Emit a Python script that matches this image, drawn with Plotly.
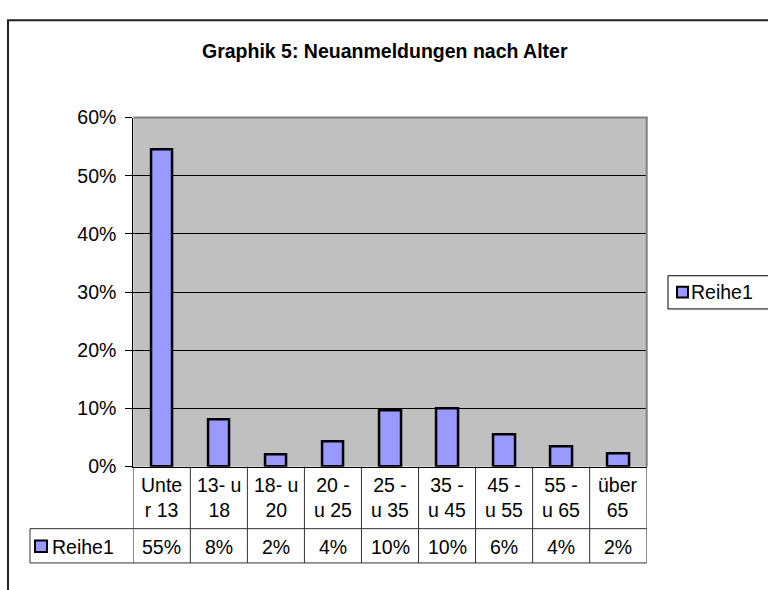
import plotly.graph_objects as go

# ---- data ----
categories = ["Unte<br>r 13", "13- u<br>18", "18- u<br>20", "20 -<br>u 25", "25 -<br>u 35",
              "35 -<br>u 45", "45 -<br>u 55", "55 -<br>u 65", "über<br>65"]
values = [0.545, 0.081, 0.020, 0.0435, 0.096, 0.100, 0.056, 0.035, 0.023]
value_labels = ["55%", "8%", "2%", "4%", "10%", "10%", "6%", "4%", "2%"]
series_name = "Reihe1"
title_text = "Graphik 5: Neuanmeldungen nach Alter"

W, H = 768, 590
def px(x): return x / W
def py(y): return 1 - y / H

FONT = "Liberation Sans, Arial, sans-serif"
FS = 19.5
BAR_FILL = "#9999FF"

# plot area in pixels
PL, PR, PT, PB = 133.3, 646.7, 110.7, 473.3
HEAD_B = 537.7
TAB_B = 573.3
LEG_L = 30

idx = list(range(len(categories)))

fig = go.Figure()
fig.add_trace(go.Bar(
    x=idx, y=values, width=0.38, name=series_name,
    marker=dict(color=BAR_FILL, line=dict(color="black", width=2.5)),
    showlegend=False,
))

shapes = []
annotations = []

# outer chart border
shapes.append(dict(type="rect", xref="paper", yref="paper",
                   x0=px(8), x1=px(790), y0=py(9.5), y1=py(620),
                   line=dict(color="#222", width=2), fillcolor="rgba(0,0,0,0)", layer="below"))

# plot area top/right gray border
shapes.append(dict(type="line", xref="paper", yref="paper",
                   x0=px(PL), x1=px(PR + 1), y0=py(PT), y1=py(PT),
                   line=dict(color="#808080", width=2)))
shapes.append(dict(type="line", xref="paper", yref="paper",
                   x0=px(PR), x1=px(PR), y0=py(PT), y1=py(PB),
                   line=dict(color="#808080", width=2)))

# data table lines
TL = "#333333"
for k in range(len(categories) + 1):
    shapes.append(dict(type="line", xref="x", yref="paper",
                       x0=k - 0.5, x1=k - 0.5, y0=py(PB), y1=py(TAB_B),
                       line=dict(color=TL, width=1)))
for yy in (HEAD_B, TAB_B):
    shapes.append(dict(type="line", xref="paper", yref="paper",
                       x0=px(LEG_L), x1=px(PR), y0=py(yy), y1=py(yy),
                       line=dict(color=TL, width=1)))
shapes.append(dict(type="line", xref="paper", yref="paper",
                   x0=px(LEG_L), x1=px(LEG_L), y0=py(HEAD_B), y1=py(TAB_B),
                   line=dict(color=TL, width=1)))

# table texts
for i, (c, v) in enumerate(zip(categories, value_labels)):
    annotations.append(dict(x=i, xref="x", y=py(505.5), yref="paper", text=c,
                            showarrow=False, xanchor="center", yanchor="middle",
                            font=dict(family=FONT, size=FS, color="black")))
    annotations.append(dict(x=i, xref="x", y=py(556.5), yref="paper", text=v,
                            showarrow=False, xanchor="center", yanchor="middle",
                            font=dict(family=FONT, size=FS, color="black")))

# table legend key
shapes.append(dict(type="rect", xref="paper", yref="paper",
                   x0=px(35), x1=px(47), y0=py(550), y1=py(562),
                   fillcolor=BAR_FILL, line=dict(color="black", width=2)))
annotations.append(dict(x=px(50), xref="paper", y=py(556.5), yref="paper", text=series_name,
                        showarrow=False, xanchor="left", yanchor="middle",
                        font=dict(family=FONT, size=FS, color="black")))

# right legend
shapes.append(dict(type="rect", xref="paper", yref="paper",
                   x0=px(668), x1=px(800), y0=py(275), y1=py(309.5),
                   fillcolor="white", line=dict(color="black", width=1)))
shapes.append(dict(type="rect", xref="paper", yref="paper",
                   x0=px(677), x1=px(688), y0=py(286.5), y1=py(297.5),
                   fillcolor=BAR_FILL, line=dict(color="black", width=2)))
annotations.append(dict(x=px(689), xref="paper", y=py(292), yref="paper", text=series_name,
                        showarrow=False, xanchor="left", yanchor="middle",
                        font=dict(family=FONT, size=FS, color="black")))

# title
annotations.append(dict(x=px(385), xref="paper", y=py(42), yref="paper",
                        text="<b>" + title_text + "</b>",
                        showarrow=False, xanchor="center", yanchor="middle",
                        font=dict(family=FONT, size=19.5, color="black")))

fig.update_layout(
    width=W, height=H, autosize=False,
    margin=dict(l=0, r=0, t=0, b=0),
    paper_bgcolor="white", plot_bgcolor="#C0C0C0",
    shapes=shapes, annotations=annotations,
    showlegend=False, bargap=0,
    xaxis=dict(domain=[px(PL), px(PR)], range=[-0.5, len(categories) - 0.5],
               showticklabels=False, ticks="", showgrid=False, zeroline=False,
               showline=True, linecolor="black", linewidth=1, fixedrange=True),
    yaxis=dict(domain=[py(PB), py(PT)], range=[0, 0.6], dtick=0.1, tickformat=".0%",
               showgrid=True, gridcolor="black", gridwidth=1, zeroline=False,
               showline=True, linecolor="black", linewidth=1,
               ticks="outside", ticklen=7, tickcolor="black", ticklabelstandoff=5,
               tickfont=dict(family=FONT, size=FS, color="black"), fixedrange=True),
)

fig.write_html("out.html", config={"displayModeBar": False},
               post_script="document.body.style.margin='0';")
